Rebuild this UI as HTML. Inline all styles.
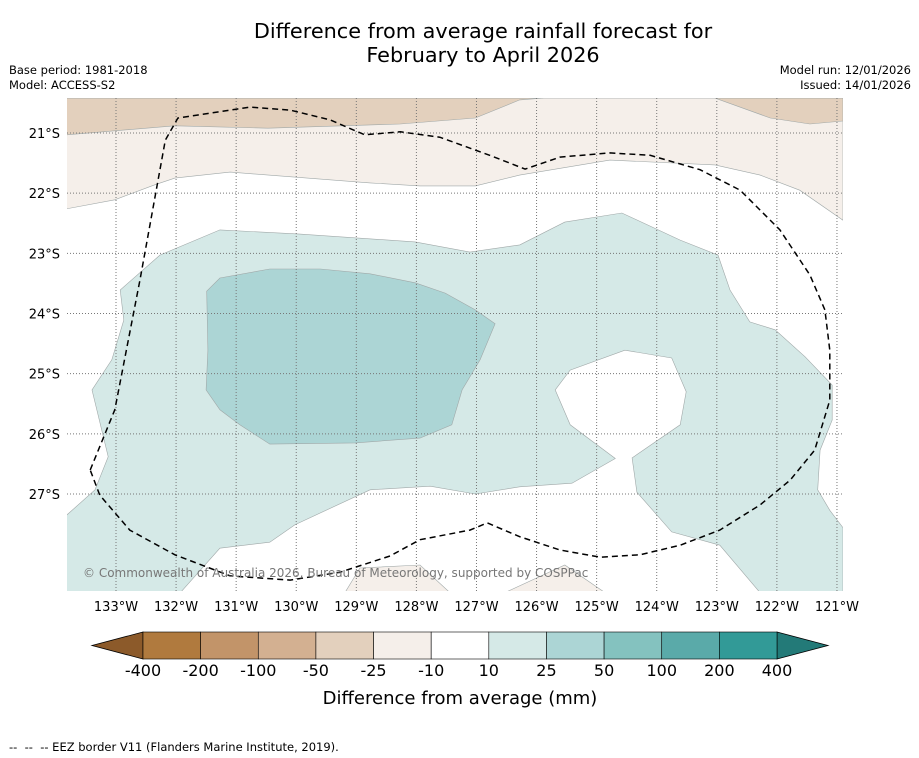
<!DOCTYPE html>
<html><head><meta charset="utf-8">
<style>
body{margin:0;background:#fff;font-family:"DejaVu Sans","Liberation Sans",sans-serif;}
#wrap{position:relative;width:919px;height:758px;overflow:hidden;}
.t{position:absolute;white-space:nowrap;color:#000;}
svg text{font-family:"DejaVu Sans","Liberation Sans",sans-serif;}
</style></head>
<body>
<div id="wrap">
<div class="t" style="left:0;width:966px;top:19px;text-align:center;font-size:20.8px;line-height:24px;">Difference from average rainfall forecast for<br>February to April 2026</div>
<div class="t" style="left:9px;top:63px;font-size:11.5px;line-height:15px;">Base period: 1981-2018<br>Model: ACCESS-S2</div>
<div class="t" style="right:8px;top:63px;font-size:11.5px;line-height:15px;text-align:right;">Model run: 12/01/2026<br>Issued: 14/01/2026</div>
<div class="t" style="left:9px;top:740px;font-size:11.5px;">--&nbsp; --&nbsp; -- EEZ border V11 (Flanders Marine Institute, 2019).</div>
<svg id="svg" width="919" height="758" style="position:absolute;left:0;top:0"></svg>
</div>
<script>
const lonTicks=[133,132,131,130,129,128,127,126,125,124,123,122,121];
const latTicks=[21,22,23,24,25,26,27];
const levelLabels=["-400","-200","-100","-50","-25","-10","10","25","50","100","200","400"];
const levelColors=["#b07a3e","#c29469","#d3b091","#e3d0bd","#f5efea","#ffffff","#d5e9e7","#acd5d5","#84c2bf","#5aaaa9","#329a97"];
const lowEndColor="#8c5a2a", highEndColor="#237a78";
const bandLight=[[133.82,20.42],[120.90,20.42],[120.90,22.45],[121.62,21.95],[122.28,21.70],[123.03,21.53],[124.78,21.45],[126.28,21.70],[127.02,21.88],[127.94,21.88],[128.77,21.83],[131.10,21.65],[132.02,21.75],[132.35,21.86],[133.02,22.11],[133.82,22.26]];
const brownLeft=[[133.82,20.42],[125.89,20.42],[126.28,20.45],[127.02,20.75],[128.27,20.85],[130.47,20.92],[132.02,20.88],[133.82,21.03]];
const brownRight=[[123.03,20.42],[120.90,20.42],[120.90,20.80],[121.45,20.85],[122.11,20.75]];
const beige1=[[129.19,28.64],[128.94,28.23],[127.94,28.18],[127.44,28.64]];
const beige2=[[126.53,28.64],[125.53,28.18],[124.86,28.64]];
const tealLight=[[133.82,27.35],[133.82,28.64],[131.93,28.64],[131.27,27.90],[130.44,27.80],[130.02,27.51],[128.77,26.93],[127.77,26.87],[127.02,27.00],[126.28,26.88],[125.41,26.82],[124.69,26.41],[125.44,25.85],[125.69,25.27],[125.44,24.94],[124.53,24.61],[123.75,24.74],[123.51,25.30],[123.61,25.85],[124.41,26.40],[124.33,26.97],[123.75,27.63],[122.95,27.85],[122.28,28.64],[120.90,28.64],[120.90,27.56],[121.12,27.27],[121.32,26.93],[121.28,26.27],[121.08,25.77],[121.08,25.19],[121.53,24.72],[122.03,24.27],[122.45,24.14],[122.78,23.61],[122.98,23.03],[123.61,22.78],[124.58,22.33],[125.53,22.48],[126.28,22.86],[127.11,22.98],[128.02,22.81],[129.94,22.68],[131.27,22.61],[132.27,23.03],[132.93,23.61],[132.87,24.11],[133.07,24.77],[133.40,25.27],[133.13,26.38],[133.35,26.93]];
const tealDark=[[131.49,23.63],[131.27,23.41],[130.44,23.26],[129.60,23.26],[128.77,23.34],[128.02,23.49],[127.52,23.66],[127.02,23.94],[126.69,24.17],[126.94,24.77],[127.24,25.27],[127.41,25.85],[127.94,26.07],[129.02,26.15],[130.44,26.17],[130.94,25.85],[131.27,25.60],[131.50,25.27],[131.47,24.61]];
const eez=[[133.43,26.60],[133.02,25.60],[132.60,23.44],[132.18,21.12],[131.97,20.75],[130.77,20.57],[130.10,20.62],[129.44,20.78],[128.86,21.03],[128.27,20.98],[127.61,21.07],[126.78,21.37],[126.19,21.60],[125.61,21.40],[124.78,21.33],[124.11,21.37],[123.28,21.61],[122.61,21.95],[121.95,22.61],[121.45,23.36],[121.20,23.94],[121.12,24.61],[121.12,25.44],[121.37,26.27],[121.78,26.77],[122.28,27.18],[122.95,27.60],[123.61,27.85],[124.28,28.01],[124.94,28.05],[125.61,27.93],[126.28,27.71],[126.82,27.48],[127.11,27.60],[127.94,27.76],[128.44,28.03],[129.27,28.30],[130.10,28.43],[131.10,28.36],[132.02,28.01],[132.77,27.60],[133.27,27.02],[133.43,26.60]];

const NS="http://www.w3.org/2000/svg", svg=document.getElementById('svg');
const X=lon=>116+(133-lon)*60.08, Y=lat=>133+(lat-21)*60.17;
function mk(tag,attrs,parent){const e=document.createElementNS(NS,tag);for(const k in attrs)e.setAttribute(k,attrs[k]);(parent||svg).appendChild(e);return e;}
const L=67,R=843,T=98,B=591;
const clip=mk('clipPath',{id:'clip'});
mk('rect',{x:L,y:T,width:R-L,height:B-T},clip);
const g=mk('g',{'clip-path':'url(#clip)'});


const pts=a=>a.map(p=>X(p[0]).toFixed(1)+','+Y(p[1]).toFixed(1)).join(' ');
function poly(a,fill,name){const p=mk('polygon',{points:pts(a),fill:fill,stroke:'#a0a8a8','stroke-width':0.6},g);

}
poly(bandLight,levelColors[4],'contour-minus10');
poly(brownLeft,levelColors[3],'contour-minus25-west');
poly(brownRight,levelColors[3],'contour-minus25-east');
poly(beige1,levelColors[4],'contour-minus10-south1');
poly(beige2,levelColors[4],'contour-minus10-south2');
poly(tealLight,levelColors[6],'contour-10');
poly(tealDark,levelColors[7],'contour-25');
lonTicks.forEach(v=>{const l=mk('line',{x1:X(v),x2:X(v),y1:T,y2:B,stroke:'#777','stroke-width':1,'stroke-dasharray':'1,2'},g);


const t=mk('text',{x:X(v),y:611,'text-anchor':'middle','font-size':13});t.textContent=v+'°W';

});
latTicks.forEach(v=>{const l=mk('line',{x1:L,x2:R,y1:Y(v),y2:Y(v),stroke:'#777','stroke-width':1,'stroke-dasharray':'1,2'},g);


const t=mk('text',{x:60,y:Y(v)+5,'text-anchor':'end','font-size':13});t.textContent=v+'°S';

});
const e=mk('polyline',{points:pts(eez),fill:'none',stroke:'#000','stroke-width':1.5,'stroke-dasharray':'6,4'},g);


const c=mk('text',{x:83,y:577,'font-size':12,fill:'#777'},g);c.textContent='© Commonwealth of Australia 2026, Bureau of Meteorology, supported by COSPPac';


const cb0=143,cbW=(777-143)/levelColors.length,cy=632,ch=27;
const cbg=mk('g',{});


mk('polygon',{points:`${cb0},${cy} ${cb0},${cy+ch} 92,${cy+ch/2}`,fill:lowEndColor,stroke:'#000','stroke-width':0.8},cbg);
mk('polygon',{points:`777,${cy} 777,${cy+ch} 828,${cy+ch/2}`,fill:highEndColor,stroke:'#000','stroke-width':0.8},cbg);
levelColors.forEach((col,i)=>{const r=mk('rect',{x:cb0+i*cbW,y:cy,width:cbW,height:ch,fill:col,stroke:'#000','stroke-width':0.6},cbg);

});
levelLabels.forEach((s,i)=>{const t=mk('text',{x:cb0+i*cbW,y:676,'text-anchor':'middle','font-size':16},cbg);t.textContent=s;

});
const ct=mk('text',{x:460,y:704,'text-anchor':'middle','font-size':18},cbg);ct.textContent='Difference from average (mm)';


</script>
</body></html>
